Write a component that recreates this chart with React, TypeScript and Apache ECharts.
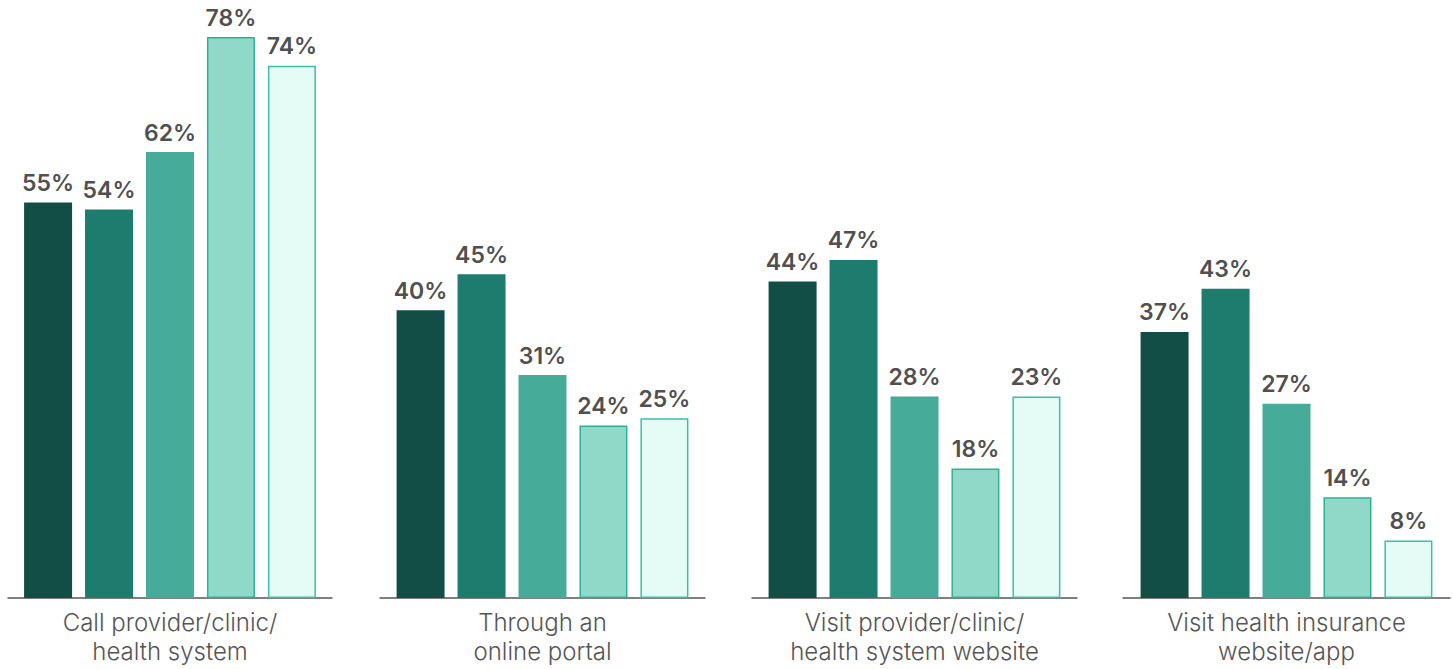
import React, { useEffect, useRef } from "react";
import * as echarts from "echarts";

const categories = [
  "Call provider/clinic/\nhealth system",
  "Through an\nonline portal",
  "Visit provider/clinic/\nhealth system website",
  "Visit health insurance\nwebsite/app",
];
// bar heights as drawn in the reference (percent)
const series1 = [55, 40, 44, 37];
const series2 = [54, 45, 47, 43];
const series3 = [62, 31, 28, 27];
const series4 = [78, 24, 18, 14];
const series5 = [74, 25, 28, 8];
// printed labels (the reference prints 23% on a bar drawn at 28)
const labels1 = ["55%", "40%", "44%", "37%"];
const labels2 = ["54%", "45%", "47%", "43%"];
const labels3 = ["62%", "31%", "28%", "27%"];
const labels4 = ["78%", "24%", "18%", "14%"];
const labels5 = ["74%", "25%", "23%", "8%"];

const allSeries = [series1, series2, series3, series4, series5];
const allLabels = [labels1, labels2, labels3, labels4, labels5];
const fills = ["#124E45", "#1D7C6D", "#46AB99", "#90D8C8", "#E4FCF5"];
const borders = ["#124E45", "#1D7C6D", "#46AB99", "#2EB098", "#3DBFA6"];

const gridLefts = [8, 380, 752, 1123];
const gridWidths = [324, 325, 325, 327];

export default function App() {
  const ref = useRef<HTMLDivElement>(null);
  useEffect(() => {
    if (!ref.current) return;
    const chart = echarts.init(ref.current, null, { renderer: "svg" });
    const font = "Inter, 'Noto Sans', sans-serif";
    const grid = gridLefts.map((l, i) => ({
      left: l,
      width: gridWidths[i],
      top: 37,
      bottom: 71,
      containLabel: false,
    }));
    const xAxis = categories.map((c, i) => ({
      type: "category",
      gridIndex: i,
      data: [c],
      axisTick: { show: false },
      axisLine: { show: true, lineStyle: { color: "#555555", width: 1.5 } },
      axisLabel: {
        color: "#555555",
        fontSize: 24,
        lineHeight: 29,
        fontFamily: font,
        fontWeight: 300,
        margin: 10,
      },
    }));
    const yAxis = categories.map((_, i) => ({
      type: "value",
      gridIndex: i,
      min: 0,
      max: 78,
      show: false,
      splitLine: { show: false },
    }));
    const series: any[] = [];
    categories.forEach((_, g) => {
      allSeries.forEach((vals, s) => {
        series.push({
          type: "bar",
          name: "s" + (s + 1),
          xAxisIndex: g,
          yAxisIndex: g,
          data: [vals[g]],
          barWidth: 48,
          barGap: "27%",
          itemStyle: {
            color: fills[s],
            borderColor: borders[s],
            borderWidth: s >= 3 ? 1.5 : 0,
          },
          label: {
            show: true,
            position: "top",
            distance: 8,
            formatter: () => allLabels[s][g],
            color: "#505050",
            fontSize: 23,
            fontWeight: 600,
            fontFamily: font,
          },
        });
      });
    });
    chart.setOption({
      animation: false,
      backgroundColor: "#ffffff",
      grid,
      xAxis,
      yAxis,
      series,
    } as any);
    return () => chart.dispose();
  }, []);
  return (
    <div
      ref={ref}
      style={{ position: "fixed", left: 0, top: 0, width: 1453, height: 669 }}
    />
  );
}
